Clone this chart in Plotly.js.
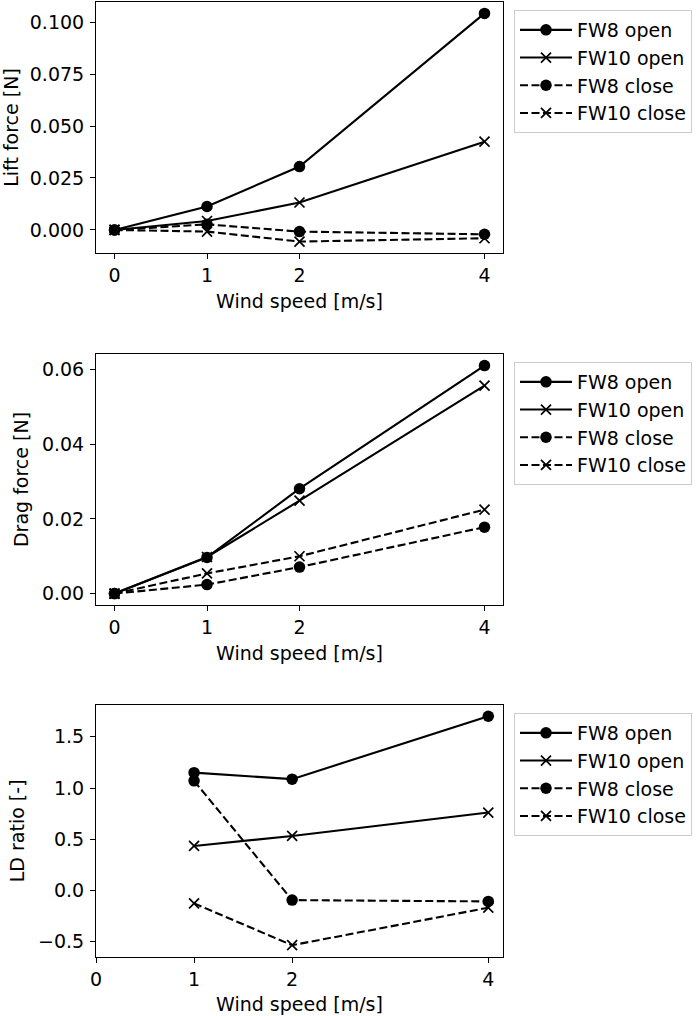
<!DOCTYPE html>
<html>
<head>
<meta charset="utf-8">
<script src="https://cdn.plot.ly/plotly-3.0.1.min.js"></script>
<style>
html,body{margin:0;padding:0;background:#fff;}
#chart{width:699px;height:1016px;}
</style>
</head>
<body>
<div id="chart"></div>
<script>
// ---- data ----
var seriesNames = ["FW8 open", "FW10 open", "FW8 close", "FW10 close"];
var windSpeed = [0, 1, 2, 4];
var windSpeedLD = [1, 2, 4];
var xTickVals = [0, 1, 2, 4];

var liftFW8open   = [0, 0.0113, 0.0305, 0.1042];
var liftFW10open  = [0, 0.0043, 0.0132, 0.0425];
var liftFW8close  = [0, 0.0027, -0.0008, -0.0021];
var liftFW10close = [0, -0.0008, -0.0056, -0.0040];

var dragFW8open   = [0, 0.0097, 0.0281, 0.0611];
var dragFW10open  = [0, 0.0098, 0.0249, 0.0557];
var dragFW8close  = [0, 0.0024, 0.0071, 0.0178];
var dragFW10close = [0, 0.0054, 0.0100, 0.0225];

var ldFW8open   = [1.15, 1.087, 1.70];
var ldFW10open  = [0.435, 0.533, 0.761];
var ldFW8close  = [1.07, -0.093, -0.106];
var ldFW10close = [-0.125, -0.533, -0.167];

// ---- styles ----
var FONT = "DejaVu Sans, sans-serif";
var FS = 19;
var styles = [
  {dash: "solid", symbol: "circle", size: 11.5},
  {dash: "solid", symbol: "x-thin", size: 10},
  {dash: "8px,3.5px", symbol: "circle", size: 11.5},
  {dash: "8px,3.5px", symbol: "x-thin", size: 10}
];

function mk(x, y, i, xa, ya, leg) {
  var s = styles[i];
  return {
    x: x, y: y, type: "scatter", mode: "lines+markers",
    name: seriesNames[i], xaxis: xa, yaxis: ya, legend: leg,
    line: {color: "#000", width: 2.1, dash: s.dash},
    marker: {symbol: s.symbol, size: s.size, color: "#000",
             line: {color: "#000", width: s.symbol === "x-thin" ? 1.7 : 0}},
    cliponaxis: false
  };
}

var traces = [];
var lift = [liftFW8open, liftFW10open, liftFW8close, liftFW10close];
var drag = [dragFW8open, dragFW10open, dragFW8close, dragFW10close];
var ld = [ldFW8open, ldFW10open, ldFW8close, ldFW10close];
for (var i = 0; i < 4; i++) traces.push(mk(windSpeed, lift[i], i, "x", "y", "legend"));
for (var i = 0; i < 4; i++) traces.push(mk(windSpeed, drag[i], i, "x2", "y2", "legend2"));
for (var i = 0; i < 4; i++) traces.push(mk(windSpeedLD, ld[i], i, "x3", "y3", "legend3"));

var W = 699, H = 1016;
var xDom = [96 / W, 503 / W];
function yd(top, bot) { return [1 - bot / H, 1 - top / H]; }

function xaxis(anchor, range) {
  return {
    domain: xDom, anchor: anchor, range: range,
    tickvals: xTickVals, ticks: "outside", ticklen: 5, tickwidth: 1, tickcolor: "#000",
    showline: true, mirror: true, linecolor: "#000", linewidth: 1,
    showgrid: false, zeroline: false, automargin: false,
    tickfont: {family: FONT, size: FS, color: "#000"},
    title: {text: "Wind speed [m/s]", font: {family: FONT, size: FS, color: "#000"}, standoff: 9}
  };
}
function yaxis(anchor, dom, range, dtick, fmt, title) {
  return {
    domain: dom, anchor: anchor, range: range, dtick: dtick, tick0: 0, tickformat: fmt,
    ticks: "outside", ticklen: 5, tickwidth: 1, tickcolor: "#000",
    showline: true, mirror: true, linecolor: "#000", linewidth: 1,
    showgrid: false, zeroline: false, automargin: false,
    ticklabelstandoff: 2,
    tickfont: {family: FONT, size: FS, color: "#000"},
    title: {text: title, font: {family: FONT, size: FS, color: "#000"}, standoff: 8}
  };
}
function legend(top) {
  return {
    x: 514 / W, y: 1 - top / H, xanchor: "left", yanchor: "top",
    bgcolor: "#fff", bordercolor: "#cccccc", borderwidth: 1,
    font: {family: FONT, size: FS, color: "#000"},
    itemwidth: 52,
    tracegroupgap: 0
  };
}

var layout = {
  width: W, height: H,
  margin: {l: 0, r: 0, t: 0, b: 0},
  paper_bgcolor: "#fff", plot_bgcolor: "#fff",
  font: {family: FONT, size: FS, color: "#000"},
  xaxis: xaxis("y", [-0.2, 4.2]),
  yaxis: yaxis("x", yd(2, 253), [-0.0111, 0.1097], 0.025, ".3f", "Lift force [N]"),
  xaxis2: xaxis("y2", [-0.2, 4.2]),
  yaxis2: yaxis("x2", yd(354, 605), [-0.00306, 0.0642], 0.02, ".2f", "Drag force [N]"),
  xaxis3: xaxis("y3", [0, 4.15]),
  yaxis3: yaxis("x3", yd(705, 956.7), [-0.645, 1.81], 0.5, ".1f", "LD ratio [-]"),
  legend: legend(10),
  legend2: legend(362),
  legend3: legend(713),
  showlegend: true
};

Plotly.newPlot("chart", traces, layout, {staticPlot: true, displayModeBar: false});
</script>
</body>
</html>
